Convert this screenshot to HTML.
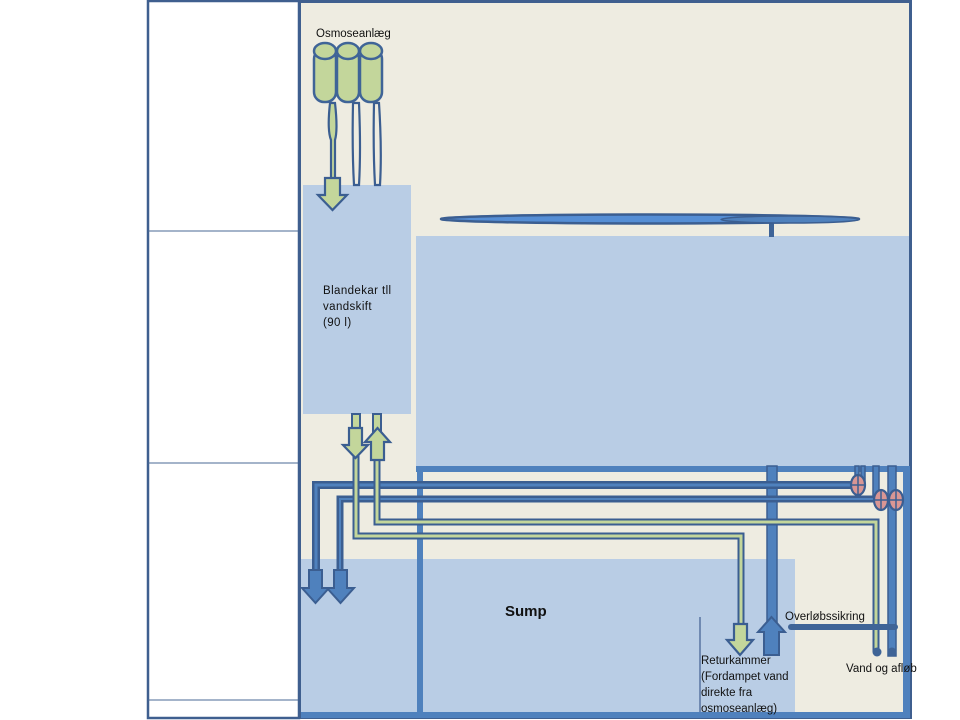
<!DOCTYPE html>
<html><head><meta charset="utf-8"><style>
html,body{margin:0;padding:0;background:#fff;}
svg{display:block;}
text{font-family:"Liberation Sans",sans-serif;fill:#111;}
</style></head><body>
<svg width="960" height="720" viewBox="0 0 960 720" xmlns="http://www.w3.org/2000/svg">
<!-- left column -->
<rect x="148" y="1" width="151" height="717" fill="#fff" stroke="#3F5F8F" stroke-width="2.5"/>
<line x1="148" y1="231" x2="299" y2="231" stroke="#4A6A96" stroke-width="1"/>
<line x1="148" y1="463" x2="299" y2="463" stroke="#4A6A96" stroke-width="1"/>
<line x1="148" y1="700" x2="299" y2="700" stroke="#4A6A96" stroke-width="1"/>
<!-- main panel -->
<rect x="299.5" y="1.5" width="611" height="716" fill="#EEECE1" stroke="#3F5F8F" stroke-width="3"/>
<!-- blandekar -->
<rect x="303" y="185" width="108" height="229" fill="#B9CDE5"/>
<!-- aquarium -->
<rect x="416" y="236" width="493" height="230" fill="#B9CDE5"/>
<!-- sump -->
<rect x="301" y="559" width="494" height="156" fill="#B9CDE5"/>
<!-- frame lines -->
<rect x="416" y="466" width="493" height="6" fill="#4F81BD"/>
<rect x="417" y="466" width="6" height="252" fill="#4F81BD"/>
<rect x="903" y="466" width="7" height="252" fill="#4F81BD"/>
<rect x="301" y="712" width="608" height="6" fill="#4F81BD"/>
<line x1="700" y1="617" x2="700" y2="712" stroke="#3F5F8F" stroke-width="1.2"/>

<!-- top pipe over aquarium -->
<rect x="769" y="222" width="5" height="15" fill="#3F6497"/>
<ellipse cx="650" cy="219" rx="209" ry="4.5" fill="#558ED5" stroke="#3B5E91" stroke-width="2.5"/>
<ellipse cx="790" cy="219.5" rx="69" ry="3.5" fill="#4F81BD" stroke="#3B5E91" stroke-width="1.5"/>

<!-- vertical pipe from aquarium to up arrow -->
<rect x="767" y="466" width="10" height="170" fill="#4F81BD" stroke="#3B5E91" stroke-width="1.5"/>

<!-- valve verticals going up to aquarium -->
<g stroke="#3B5E91" stroke-width="1.5" fill="#4F81BD">
<rect x="855" y="466" width="4" height="18"/>
<rect x="861" y="466" width="4" height="18"/>
<rect x="873" y="466" width="6" height="32"/>
<rect x="888" y="466" width="8" height="190"/>
</g>

<!-- pipe A -->
<polyline points="316,598 316,485 858,485" fill="none" stroke="#3B5E91" stroke-width="8"/>
<polyline points="316,598 316,485 858,485" fill="none" stroke="#4F81BD" stroke-width="3"/>
<!-- pipe B -->
<polyline points="340,598 340,499 882,499" fill="none" stroke="#3B5E91" stroke-width="7"/>
<polyline points="340,598 340,499 882,499" fill="none" stroke="#4F81BD" stroke-width="2"/>

<!-- green pipe C -->
<polyline points="377,440 377,522 876,522 876,652" fill="none" stroke="#3B5E91" stroke-width="7"/>
<polyline points="377,440 377,522 876,522 876,652" fill="none" stroke="#C3D69B" stroke-width="3"/>
<!-- green pipe D -->
<polyline points="356,445 356,536 741,536 741,630" fill="none" stroke="#3B5E91" stroke-width="7"/>
<polyline points="356,445 356,536 741,536 741,630" fill="none" stroke="#C3D69B" stroke-width="3"/>
<!-- blandekar shafts -->
<rect x="352" y="414" width="8" height="18" fill="#C3D69B" stroke="#3B5E91" stroke-width="2"/>
<rect x="373" y="414" width="8" height="18" fill="#C3D69B" stroke="#3B5E91" stroke-width="2"/>

<!-- overflow pipe -->
<line x1="791" y1="627" x2="895" y2="627" stroke="#3F6497" stroke-width="6" stroke-linecap="round"/>

<!-- end circles -->
<circle cx="877" cy="652" r="4.5" fill="#3F6497"/>
<circle cx="892" cy="652" r="4.5" fill="#3F6497"/>

<!-- valves -->
<g stroke="#3B5E91" stroke-width="2.2" fill="#D99694">
<ellipse cx="858" cy="485" rx="7" ry="10"/>
<ellipse cx="881" cy="500" rx="7" ry="10"/>
<ellipse cx="896" cy="500" rx="7" ry="10"/>
</g>
<g stroke="#3B5E91" stroke-width="1.5">
<line x1="851" y1="485" x2="865" y2="485"/><line x1="858" y1="475" x2="858" y2="495"/>
<line x1="874" y1="500" x2="888" y2="500"/><line x1="881" y1="490" x2="881" y2="510"/>
<line x1="889" y1="500" x2="903" y2="500"/><line x1="896" y1="490" x2="896" y2="510"/>
</g>

<!-- blue down arrows into sump -->
<g fill="#4F81BD" stroke="#3B5E91" stroke-width="2" stroke-linejoin="miter">
<polygon points="309,570 322,570 322,588 329,588 315.5,603 302,588 309,588"/>
<polygon points="334,570 347,570 347,588 354,588 340.5,603 327,588 334,588"/>
<!-- up arrow -->
<polygon points="771.5,617 785,632 779,632 779,655 764,655 764,632 758,632"/>
</g>
<!-- green arrows -->
<g fill="#C3D69B" stroke="#3B5E91" stroke-width="2.2" stroke-linejoin="miter">
<polygon points="349,428 362,428 362,445 368,445 355.5,458 343,445 349,445"/>
<polygon points="377.5,428 390,442 384,442 384,460 371,460 371,442 365,442"/>
<polygon points="734,624 747,624 747,640 753,640 740,655 727,640 734,640"/>
</g>

<!-- osmose pipes -->
<g stroke="#3B5E91" stroke-width="2.2" fill="#C3D69B">
<path d="M330,103 Q327,130 331,140 L331,180 L335,180 L335,140 Q338,130 335,103 Z"/>
<path d="M353,103 Q352,150 354,185 L359,185 Q361,150 359,103 Z" fill="#EEECE1"/>
<path d="M374,103 Q373,150 375,185 L380,185 Q382,150 379,103 Z" fill="#EEECE1"/>
<polygon points="325,178 340,178 340,195 347,195 332.5,210 318,195 325,195"/>
</g>
<!-- cylinders -->
<g stroke="#3F6497" stroke-width="2.5" fill="#C3D69B">
<rect x="314" y="49" width="22" height="53" rx="10"/>
<rect x="337" y="49" width="22" height="53" rx="10"/>
<rect x="360" y="49" width="22" height="53" rx="10"/>
<ellipse cx="325" cy="51" rx="11" ry="8"/>
<ellipse cx="348" cy="51" rx="11" ry="8"/>
<ellipse cx="371" cy="51" rx="11" ry="8"/>
</g>

<!-- texts -->
<text x="316" y="37" font-size="11.5">Osmoseanlæg</text>
<text x="323" y="294" font-size="11.5" letter-spacing="0.4">Blandekar tll</text>
<text x="323" y="310" font-size="11.5" letter-spacing="0.4">vandskift</text>
<text x="323" y="326" font-size="11.5" letter-spacing="0.4">(90 l)</text>
<text x="505" y="616" font-size="15" font-weight="bold">Sump</text>
<text x="785" y="620" font-size="11.5">Overløbssikring</text>
<text x="846" y="672" font-size="11.5">Vand og afløb</text>
<text x="701" y="664" font-size="11.5">Returkammer</text>
<text x="701" y="680" font-size="11.5">(Fordampet vand</text>
<text x="701" y="696" font-size="11.5">direkte fra</text>
<text x="701" y="712" font-size="11.5">osmoseanlæg)</text>
</svg>
</body></html>
